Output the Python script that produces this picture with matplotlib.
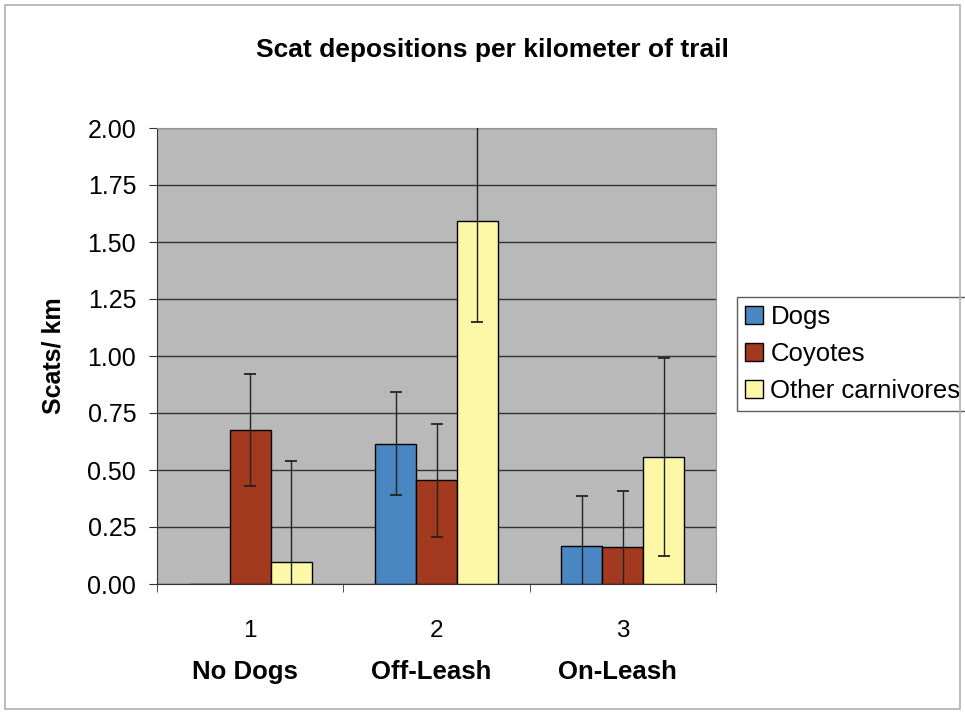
import matplotlib
matplotlib.use("Agg")
import matplotlib.pyplot as plt
import numpy as np
from matplotlib.patches import Rectangle

plt.rcParams['font.family'] = ['Liberation Sans', 'DejaVu Sans']

categories = ["No Dogs", "Off-Leash", "On-Leash"]
cat_numbers = ["1", "2", "3"]
series_names = ["Dogs", "Coyotes", "Other carnivores"]
dogs = [0.0, 0.615, 0.168]
coyotes = [0.677, 0.454, 0.161]
others = [0.095, 1.59, 0.557]
dogs_err = [0.0, 0.225, 0.22]
coyotes_err = [0.245, 0.248, 0.245]
others_err = [0.445, 0.443, 0.436]
yticks = [0.0, 0.25, 0.5, 0.75, 1.0, 1.25, 1.5, 1.75, 2.0]

colors = ["#4a86c2", "#a3391f", "#fdf8a8"]

fig = plt.figure(figsize=(9.65, 7.13), dpi=100)
fig.patches.append(Rectangle((0.005, 0.005), 0.99, 0.988, transform=fig.transFigure,
                             fill=False, edgecolor="#b0b0b0", linewidth=1.2))
ax = fig.add_axes([157/965, 1-584/713, (716-157)/965, (584-128)/713])
ax.set_facecolor("#b9b9b9")

x = np.arange(1, len(categories) + 1)
w = 0.22
data = [dogs, coyotes, others]
errs = [dogs_err, coyotes_err, others_err]
for i, (vals, e, c, name) in enumerate(zip(data, errs, colors, series_names)):
    pos = x + (i - 1) * w
    ax.bar(pos, vals, width=w, color=c, edgecolor="black", linewidth=1.0, label=name, zorder=3)
    for p, v, ee in zip(pos, vals, e):
        if ee > 0:
            ax.errorbar(p, v, yerr=ee, fmt="none", ecolor="#222222", elinewidth=1.0,
                        capsize=4.5, capthick=1.3, zorder=4)

ax.set_ylim(0, 2.0)
ax.set_xlim(0.5, 3.5)
ax.set_yticks(yticks)
ax.set_yticklabels([f"{t:.2f}" for t in yticks], fontsize=18)
ax.yaxis.grid(True, color="#333333", linewidth=1.0, zorder=1)
ax.set_axisbelow(True)
ax.set_xticks(x)
ax.set_xticklabels(cat_numbers, fontsize=17.5)
ax.tick_params(axis="x", which="major", length=0, pad=26)
ax.set_xticks([0.5, 1.5, 2.5, 3.5], minor=True)
ax.tick_params(axis="x", which="minor", length=6, direction="out", color="#333333")
ax.tick_params(axis="y", length=6, direction="out", color="#333333", pad=9)
for xi, name in zip(x, categories):
    ax.text(xi - 0.03, -0.193, name, transform=ax.get_xaxis_transform(), ha="center", va="center",
            fontsize=18.5, fontweight="bold")
for s in ["top", "right"]:
    ax.spines[s].set_color("#999999")
for s in ["left", "bottom"]:
    ax.spines[s].set_color("#333333")

ax.set_ylabel("Scats/ km", fontsize=18, fontweight="bold", labelpad=16)
fig.text(492/965, 1-50/713, "Scat depositions per kilometer of trail", ha="center", va="center",
         fontsize=19, fontweight="bold")

leg = ax.legend(loc="center left", bbox_to_anchor=(737/965, 1-354/713), bbox_transform=fig.transFigure,
                fontsize=18.5, frameon=True, fancybox=False, edgecolor="#333333",
                handlelength=0.7, handleheight=0.7, handletextpad=0.3, borderpad=0.3, labelspacing=0.5,
                borderaxespad=0)
leg.get_frame().set_linewidth(1.0)

fig.savefig("out.png", dpi=100)
